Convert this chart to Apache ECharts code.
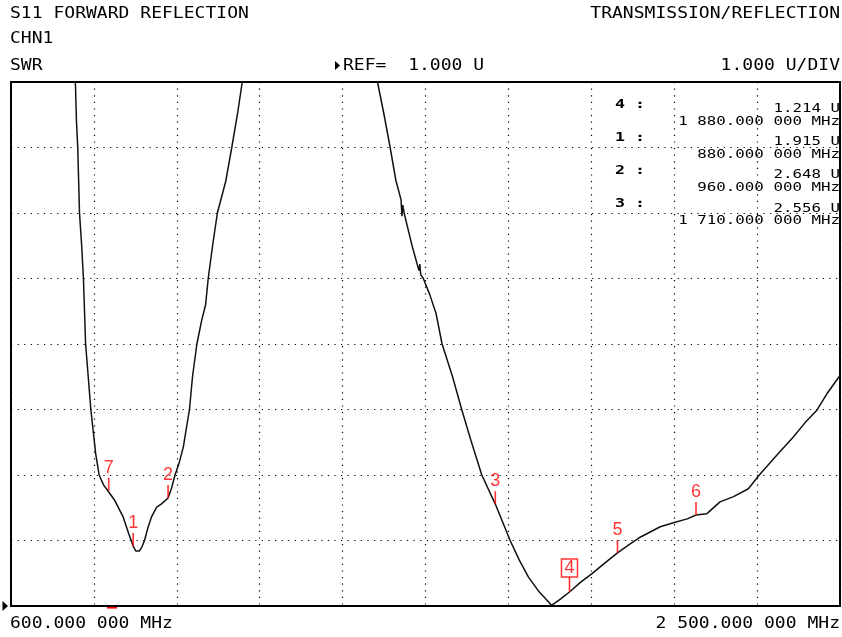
<!DOCTYPE html>
<html>
<head>
<meta charset="utf-8">
<script src="https://cdn.jsdelivr.net/npm/echarts@6/dist/echarts.min.js"></script>
<style>html,body{margin:0;padding:0;background:#fff;}#c{width:842px;height:637px;}</style>
</head>
<body>
<div id="c"></div>
<script>
// ---- data ----
const freqMHz = [745,748,750,753,757,762,766,771,777,783,794,802,812,824,838,857,870,880,886,894,900,906,914,922,934,945,960,968,976,986,995,1009,1016,1026,1037,1046,1052,1062,1073,1092,1106,1120,1130,1135,
  1200,
  1437,1440,1455,1469,1482,1494,1496,1498,1501,1520,1535,1537,1539,1545,1560,1574,1588,1612,1633,1654,1679,1710,1744,1765,1786,1810,1839,1860,1880,1905,1931,1960,1990,2015,2042,2065,2088,2122,2150,2170,2195,2225,2256,2290,2315,2355,2393,2420,2447,2470,2500];
const swrValues = [9.4,8.9,8.4,8.0,7.0,6.5,6.0,5.0,4.5,4.0,3.33,3.0,2.85,2.74,2.61,2.36,2.10,1.915,1.84,1.84,1.90,2.0,2.2,2.36,2.51,2.56,2.648,2.8,3.0,3.2,3.43,4.0,4.5,5.0,5.36,5.6,6.0,6.5,7.0,7.48,8.0,8.55,9.0,9.4,
  null,
  9.4,9.0,8.5,8.0,7.5,7.2,6.95,7.12,7.0,6.48,6.12,6.22,6.06,6.0,5.75,5.47,5.0,4.5,4.0,3.53,3.0,2.556,2.0,1.7,1.44,1.22,1.01,1.11,1.214,1.36,1.49,1.65,1.81,1.93,2.05,2.13,2.21,2.28,2.33,2.39,2.41,2.59,2.67,2.79,3.0,3.30,3.58,3.8,3.99,4.24,4.52];
const markerNames = ['1','2','3','4','5','6','7'];
const markerFreqs = [880, 960, 1710, 1880, 1990, 2170, 824];
const markerValues = [1.915, 2.648, 2.556, 1.214, 1.81, 2.39, 2.76];
const activeMarker = '4';
const tableNames = ['4 :', '1 :', '2 :', '3 :'];
const tableValues = ['1.214 U', '1.915 U', '2.648 U', '2.556 U'];
const tableFreqs = ['1 880.000 000 MHz', '880.000 000 MHz', '960.000 000 MHz', '1 710.000 000 MHz'];
const startLabel = '600.000 000 MHz';
const stopLabel = '2 500.000 000 MHz';

// ---- chart ----
const chart = echarts.init(document.getElementById('c'), null, {renderer: 'canvas'});
const MONO = '"DejaVu Sans Mono", monospace';
const RED = '#ff0000';
function txt(text, x, y, size, align, sx, bold) {
  return {
    type: 'text', x: x, y: y, scaleX: sx, silent: true,
    style: {
      text: text, x: 0, y: 0, fill: '#000',
      font: (bold ? 'bold ' : '') + size + 'px ' + MONO,
      align: align, textAlign: align, verticalAlign: 'middle', textVerticalAlign: 'middle'
    }
  };
}
const HS = 16.5, HSX = 1.093;
const graphics = [
  txt('S11 FORWARD REFLECTION', 10, 13.5, HS, 'left', HSX),
  txt('CHN1', 10, 38.5, HS, 'left', HSX),
  txt('SWR', 10, 65.5, HS, 'left', HSX),
  txt('TRANSMISSION/REFLECTION', 840, 13.5, HS, 'right', HSX),
  txt('REF=  1.000 U', 343, 65.5, HS, 'left', HSX),
  txt('1.000 U/DIV', 840, 65.5, HS, 'right', HSX),
  txt(startLabel, 10, 624, HS, 'left', HSX),
  txt(stopLabel, 840, 624, HS, 'right', HSX),
  {type: 'polygon', silent: true, shape: {points: [[335, 61], [340, 65.5], [335, 70]]}, style: {fill: '#000'}},
  {type: 'polygon', silent: true, shape: {points: [[2.5, 601], [8, 606], [2.5, 611]]}, style: {fill: '#000'}},
  {type: 'rect', silent: true, shape: {x: 107, y: 607, width: 10, height: 1.6}, style: {fill: RED}}
];
for (let i = 0; i < tableNames.length; i++) {
  graphics.push(txt(tableNames[i], 615, 104.5 + 33 * i, 12.5, 'left', 1.33, true));
  graphics.push(txt(tableValues[i], 840, 109 + 33.2 * i, 11.8, 'right', 1.34));
  graphics.push(txt(tableFreqs[i], 840, 121.5 + 33 * i, 11.8, 'right', 1.34));
}

const curveData = freqMHz.map((f, i) => [f, swrValues[i] === null ? '-' : swrValues[i]]);
const markerData = markerNames.map((n, i) => {
  const isActive = n === activeMarker;
  return {
    name: n, value: [markerFreqs[i], markerValues[i]],
    symbolSize: [1.6, isActive ? 15 : 13],
    symbolOffset: [0, isActive ? -7.5 : -6.5],
    label: isActive ? {
      borderColor: RED, borderWidth: 1.5, padding: [1, 3, 0, 3], lineHeight: 17, distance: 0
    } : {}
  };
});

const dotted = {show: true, lineStyle: {color: '#000', width: 1.2, type: [1.2, 5.4]}};
chart.setOption({
  animation: false,
  backgroundColor: '#fff',
  grid: {left: 11, right: 2, top: 82, bottom: 31, show: true, borderColor: '#000', borderWidth: 2, containLabel: false},
  xAxis: [
    {type: 'value', min: 0, max: 10, interval: 1, axisLine: {show: false}, axisTick: {show: false}, axisLabel: {show: false}, splitLine: dotted},
    {type: 'value', min: 600, max: 2500, show: false, splitLine: {show: false}}
  ],
  yAxis: {type: 'value', min: 1, max: 9, interval: 1, axisLine: {show: false}, axisTick: {show: false}, axisLabel: {show: false}, splitLine: dotted},
  series: [
    {
      type: 'line', xAxisIndex: 1, data: curveData, symbol: 'none', clip: true, connectNulls: false,
      lineStyle: {color: '#111', width: 1.5}, silent: true, z: 3
    },
    {
      type: 'scatter', xAxisIndex: 1, data: markerData, symbol: 'rect', clip: false,
      itemStyle: {color: RED}, silent: true, z: 4,
      label: {show: true, position: 'top', distance: 1, formatter: '{b}', color: RED,
        fontFamily: '"Liberation Sans", sans-serif', fontSize: 18}
    }
  ],
  graphic: graphics
});
</script>
</body>
</html>
